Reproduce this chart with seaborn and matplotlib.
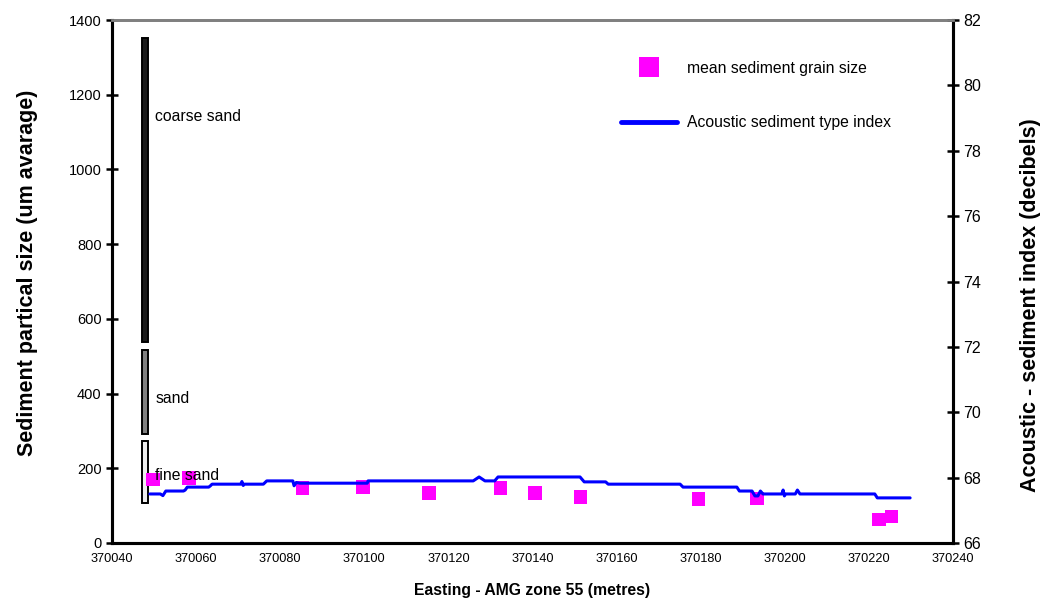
import matplotlib
matplotlib.use("Agg")
import matplotlib.pyplot as plt
import seaborn as sns
import pandas as pd
from matplotlib.lines import Line2D

# ---- data ----
grain_x = [370049.75, 370058.3, 370085.4, 370099.7, 370115.4, 370132.3,
           370140.6, 370151.5, 370179.4, 370193.4, 370222.4, 370225.3]
grain_size = [169, 174, 147, 150, 134, 147, 134, 123, 118, 120, 62, 70]

acoustic_x = [370049.0, 370051.5, 370052.1, 370052.8, 370057.0, 370057.4, 370057.9,
              370063.0, 370063.4, 370063.8, 370070.6, 370070.9, 370071.2, 370071.5,
              370076.0, 370076.8, 370083.0, 370083.3, 370083.8, 370084.7, 370100.7,
              370100.9, 370125.9, 370127.3, 370128.7, 370131.0, 370131.8, 370151.3,
              370152.3, 370157.4, 370158.0, 370175.1, 370175.8, 370188.6, 370189.2,
              370192.2, 370192.9, 370193.6, 370194.2, 370194.8, 370199.3, 370199.6,
              370199.9, 370200.2, 370202.5, 370203.0, 370203.6, 370221.4, 370222.0,
              370229.8]
acoustic_db = [67.50, 67.50, 67.45, 67.59, 67.59, 67.62, 67.71,
               67.71, 67.75, 67.80, 67.80, 67.88, 67.76, 67.80,
               67.80, 67.90, 67.90, 67.75, 67.85, 67.83, 67.83,
               67.90, 67.90, 68.02, 67.90, 67.90, 68.02, 68.02,
               67.87, 67.87, 67.80, 67.80, 67.71, 67.71, 67.59,
               67.59, 67.44, 67.44, 67.59, 67.50, 67.50, 67.62,
               67.44, 67.50, 67.50, 67.62, 67.50, 67.50, 67.38,
               67.38]

class_names = ["coarse sand", "sand", "fine sand"]
class_low = [538, 292, 107]
class_high = [1352, 517, 273]
class_label_y = [1143, 388, 182]
class_colors = ["#1a1a1a", "#808080", "#eeeeee"]
class_x = 370047.85

x_ticks = list(range(370040, 370241, 20))
left_ticks = list(range(0, 1401, 200))
right_ticks = list(range(66, 83, 2))

# ---- plot ----
sns.set_style("white")
plt.rcParams["font.family"] = ["Liberation Sans", "DejaVu Sans"]
plt.rcParams["text.color"] = "black"
plt.rcParams["axes.labelcolor"] = "black"
plt.rcParams["xtick.color"] = "black"
plt.rcParams["ytick.color"] = "black"

fig = plt.figure(figsize=(10.48, 6.03), dpi=100)
ax = fig.add_axes([112/1048, 1-543/603, (953-112)/1048, (543-20)/603])

# class bars
for lo, hi, col in zip(class_low, class_high, class_colors):
    ax.bar(class_x, hi - lo, bottom=lo, width=1.3, color=col,
           edgecolor="black", linewidth=1.4, zorder=2)
for name, ly in zip(class_names, class_label_y):
    ax.text(class_x + 2.4, ly, name, fontsize=11.3, va="center", ha="left",
            color="black", zorder=5)

df_g = pd.DataFrame({"x": grain_x, "y": grain_size})
sns.scatterplot(data=df_g, x="x", y="y", ax=ax, marker="s", s=90,
                color="#ff00ff", edgecolor="none", linewidth=0, zorder=3)

ax.set_xlim(370040, 370240)
ax.set_ylim(0, 1400)
ax.set_xticks(x_ticks)
ax.set_xticklabels([str(t) for t in x_ticks], fontsize=9.2)
ax.set_yticks(left_ticks)
ax.set_yticklabels([str(t) for t in left_ticks], fontsize=10.5)
ax.set_xlabel("Easting - AMG zone 55 (metres)", fontsize=11.3, fontweight="bold", labelpad=13)
ax.set_ylabel("Sediment partical size (um avarage)", fontsize=15.5, fontweight="bold", labelpad=22)
ax.yaxis.label.set_y(0.516)

ax2 = ax.twinx()
df_a = pd.DataFrame({"x": acoustic_x, "y": acoustic_db})
sns.lineplot(data=df_a, x="x", y="y", ax=ax2, color="#0000ff", linewidth=2.2, zorder=4)
ax2.set_ylim(66, 82)
ax2.set_yticks(right_ticks)
ax2.set_yticklabels([str(t) for t in right_ticks], fontsize=11.5)
ax2.set_ylabel("Acoustic - sediment index (decibels)", fontsize=15.5, fontweight="bold",
               labelpad=28, rotation=90)
ax2.yaxis.label.set_y(0.455)
ax2.set_xlim(370040, 370240)

for a in (ax, ax2):
    for side in ("left", "right", "bottom"):
        a.spines[side].set_color("black")
        a.spines[side].set_linewidth(2.2)
    a.spines["top"].set_color("#808080")
    a.spines["top"].set_linewidth(2)
ax.tick_params(axis="both", direction="inout", length=9, width=1.8, pad=3)
ax.tick_params(axis="x", pad=3)
ax2.tick_params(axis="y", direction="inout", length=9, width=1.8, pad=3)

handles = [Line2D([], [], marker="s", linestyle="none", color="#ff00ff",
                  markersize=15, markeredgewidth=0),
           Line2D([], [], color="#0000ff", linewidth=3.5)]
ax2.legend(handles, ["mean sediment grain size", "Acoustic sediment type index"],
           loc="upper left", bbox_to_anchor=(0.605, 0.922), frameon=False,
           fontsize=11.3, handlelength=3.6, handletextpad=0.6, labelspacing=2.5,
           borderpad=0, borderaxespad=0)

fig.savefig("out.png", dpi=100)
